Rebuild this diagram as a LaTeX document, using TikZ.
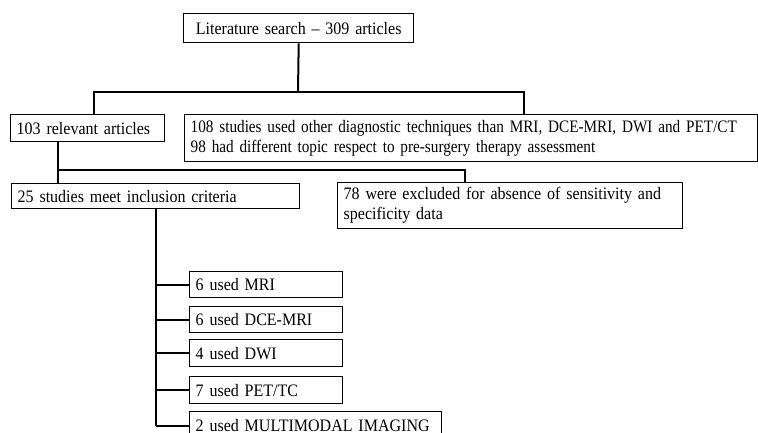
\documentclass[tikz,border=0pt]{standalone}
\usepackage{fontspec}
\setmainfont[FakeStretch=0.915]{Liberation Serif}
\newfontfamily\narrowfont[FakeStretch=0.87]{Liberation Serif}
\begin{document}
\begin{tikzpicture}[x=1pt,y=-1pt,
  box/.style={draw=black, line width=1.4pt, inner xsep=6pt, inner ysep=0pt,
    anchor=north west, align=left, font=\fontsize{17.5}{20}\selectfont},
  link/.style={draw=black, line width=2pt}]
\useasboundingbox (0,0) rectangle (758,433);
\fill[white] (0,0) rectangle (758,433);
% boxes
\node[box, align=center, text width=218pt, minimum height=29pt] (top) at (183,13) {Literature search -- 309 articles};
\node[box, text width=142pt, minimum height=27pt] (rel) at (10,114) {103 relevant articles};
\node[box, text width=561pt, minimum height=47pt, font=\fontsize{17.5}{20}\narrowfont] (oth) at (184,114) {108 studies used other diagnostic techniques than MRI, DCE-MRI, DWI and PET/CT\\98 had different topic respect to pre-surgery therapy assessment};
\node[box, text width=276pt, minimum height=25pt] (inc) at (11,183) {25 studies meet inclusion criteria};
\node[box, text width=333pt, minimum height=46pt] (exc) at (337,182) {78 were excluded for absence of sensitivity and\\specificity data};
\node[box, text width=141pt, minimum height=26pt] (mri) at (189,271) {6 used MRI};
\node[box, text width=141pt, minimum height=26pt] (dce) at (189,306) {6 used DCE-MRI};
\node[box, text width=141pt, minimum height=27pt] (dwi) at (189,339) {4 used DWI};
\node[box, text width=141pt, minimum height=27pt] (pet) at (189,376) {7 used PET/TC};
\node[box, text width=240pt, minimum height=28pt] (multi) at (189,411) {2 used MULTIMODAL IMAGING};
% connectors, level 1
\coordinate (b1) at (298,92);
\draw[link] (top.south) -- (b1);
\draw[link] ([xshift=6pt]rel.north) |- (b1) -| ([xshift=52.5pt]oth.north);
% level 2
\coordinate (b2) at (57,170);
\draw[link] ([xshift=-30pt]rel.south) -- ([xshift=-30pt]rel.south |- inc.north);
\draw[link] (b2) -| ([xshift=-45.5pt]exc.north);
% level 3
\draw[link] (inc.south) -- (inc.south |- multi.west);
\draw[link] (inc.south |- mri.west) -- (mri.west);
\draw[link] (inc.south |- dce.west) -- (dce.west);
\draw[link] (inc.south |- dwi.west) -- (dwi.west);
\draw[link] (inc.south |- pet.west) -- (pet.west);
\draw[link] (inc.south |- multi.west) -- (multi.west);
\end{tikzpicture}
\end{document}
